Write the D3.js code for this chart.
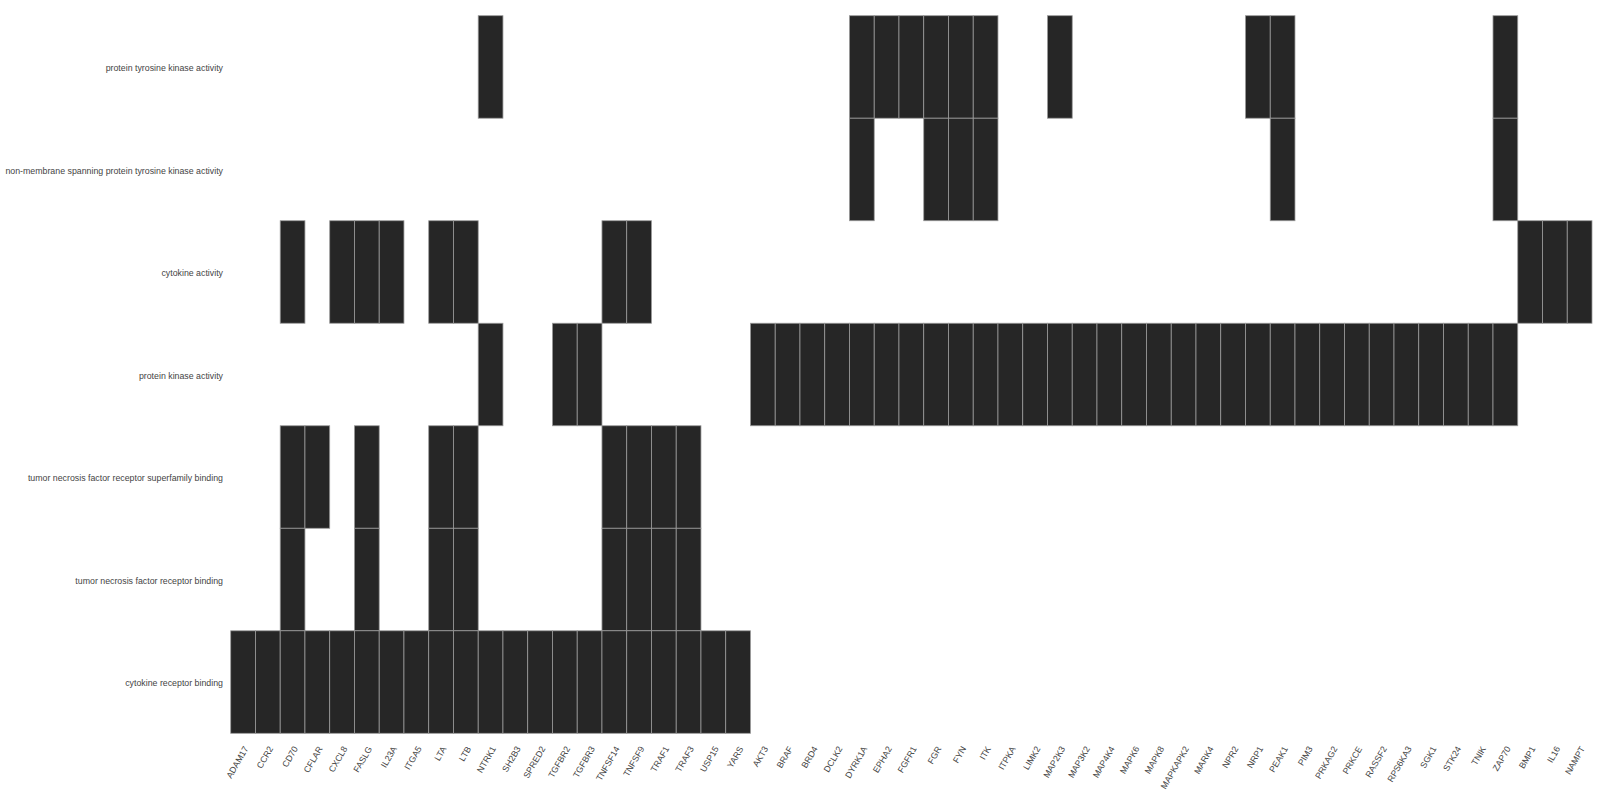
<!DOCTYPE html>
<html><head><meta charset="utf-8">
<script src="https://cdn.jsdelivr.net/npm/d3@7"></script>
<style>body{margin:0;background:#fff;} text{font-family:"Liberation Sans",Arial,sans-serif;}</style>
</head><body><svg id="c" width="1600" height="800"></svg>
<script>
const genes = ["ADAM17","CCR2","CD70","CFLAR","CXCL8","FASLG","IL23A","ITGA5","LTA","LTB","NTRK1","SH2B3","SPRED2","TGFBR2","TGFBR3","TNFSF14","TNFSF9","TRAF1","TRAF3","USP15","YARS","AKT3","BRAF","BRD4","DCLK2","DYRK1A","EPHA2","FGFR1","FGR","FYN","ITK","ITPKA","LIMK2","MAP2K3","MAP3K2","MAP4K4","MAPK6","MAPK8","MAPKAPK2","MARK4","NPR2","NRP1","PEAK1","PIM3","PRKAG2","PRKCE","RASSF2","RPS6KA3","SGK1","STK24","TNIK","ZAP70","BMP1","IL16","NAMPT"];
const terms = ["protein tyrosine kinase activity","non-membrane spanning protein tyrosine kinase activity","cytokine activity","protein kinase activity","tumor necrosis factor receptor superfamily binding","tumor necrosis factor receptor binding","cytokine receptor binding"];
const ptkGenes = ["NTRK1","DYRK1A","EPHA2","FGFR1","FGR","FYN","ITK","MAP2K3","NRP1","PEAK1","ZAP70"];
const nmptkGenes = ["DYRK1A","FGR","FYN","ITK","PEAK1","ZAP70"];
const cytokineActGenes = ["CD70","CXCL8","FASLG","IL23A","LTA","LTB","TNFSF14","TNFSF9","BMP1","IL16","NAMPT"];
const pkGenes = ["NTRK1","TGFBR2","TGFBR3","AKT3","BRAF","BRD4","DCLK2","DYRK1A","EPHA2","FGFR1","FGR","FYN","ITK","ITPKA","LIMK2","MAP2K3","MAP3K2","MAP4K4","MAPK6","MAPK8","MAPKAPK2","MARK4","NPR2","NRP1","PEAK1","PIM3","PRKAG2","PRKCE","RASSF2","RPS6KA3","SGK1","STK24","TNIK","ZAP70"];
const tnfsfGenes = ["CD70","CFLAR","FASLG","LTA","LTB","TNFSF14","TNFSF9","TRAF1","TRAF3"];
const tnfGenes = ["CD70","FASLG","LTA","LTB","TNFSF14","TNFSF9","TRAF1","TRAF3"];
const crbGenes = ["ADAM17","CCR2","CD70","CFLAR","CXCL8","FASLG","IL23A","ITGA5","LTA","LTB","NTRK1","SH2B3","SPRED2","TGFBR2","TGFBR3","TNFSF14","TNFSF9","TRAF1","TRAF3","USP15","YARS"];
const memberships = [ptkGenes,nmptkGenes,cytokineActGenes,pkGenes,tnfsfGenes,tnfGenes,crbGenes];

const cells = [];
terms.forEach((t,i)=>memberships[i].forEach(g=>cells.push({term:t,gene:g})));

const svg = d3.select("#c");
const x = d3.scaleBand().domain(genes).range([230.7,1592]).padding(0);
const y = d3.scaleBand().domain(terms).range([15.7,733.3]).padding(0);

svg.append("g").selectAll("rect").data(cells).join("rect")
  .attr("x",d=>x(d.gene)).attr("y",d=>y(d.term))
  .attr("width",x.bandwidth()).attr("height",y.bandwidth())
  .attr("fill","#262626").attr("stroke","#9a9a9a").attr("stroke-width",0.8);

svg.append("g").selectAll("text").data(terms).join("text")
  .attr("x",223).attr("y",d=>y(d)+y.bandwidth()/2+1).attr("dy","0.35em")
  .attr("text-anchor","end").attr("font-size",8.8).attr("fill","#444")
  .text(d=>d);

svg.append("g").selectAll("text").data(genes).join("text")
  .attr("transform",d=>`translate(${x(d)+x.bandwidth()/2+3},${747}) rotate(-60)`)
  .attr("text-anchor","end").attr("dy","0.35em").attr("font-size",8.8).attr("fill","#444")
  .text(d=>d);
</script></body></html>
